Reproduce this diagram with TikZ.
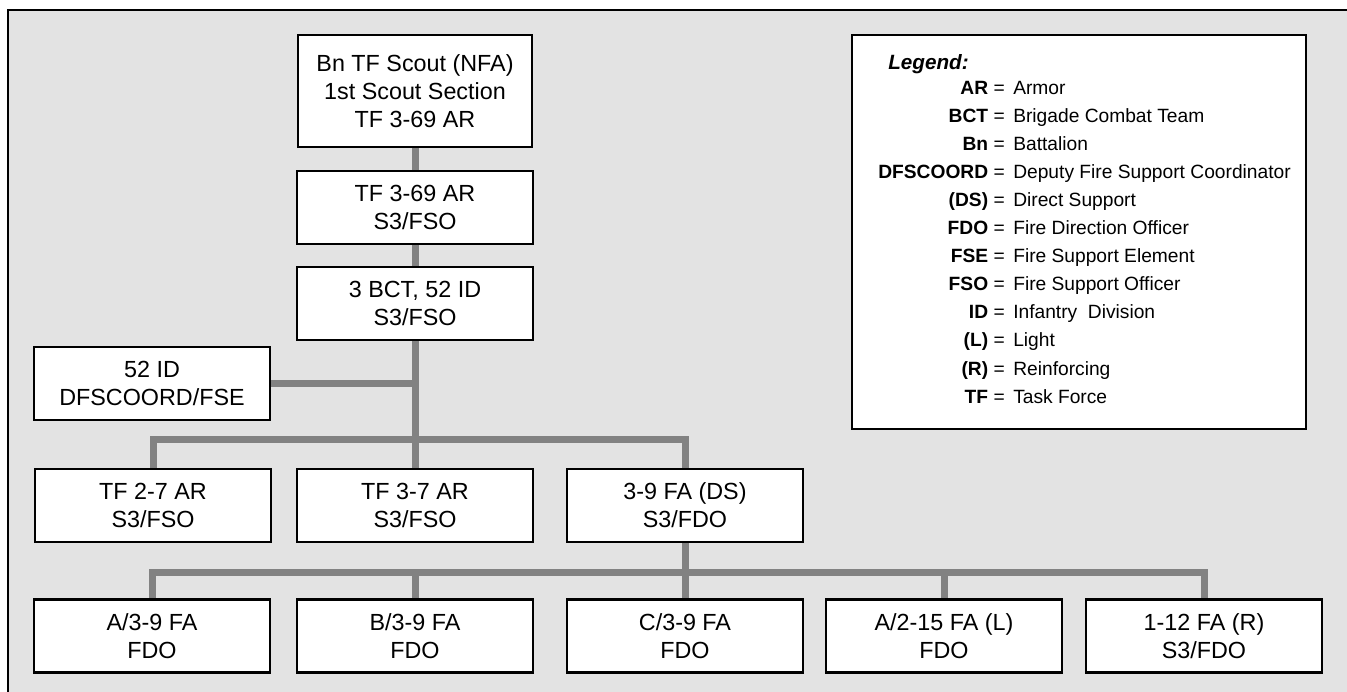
\documentclass[tikz,border=0pt]{standalone}
\usepackage{fontspec}
\setmainfont{Liberation Sans}
\usepackage{xcolor}
\usepackage{tikz}
\usetikzlibrary{positioning, calc, backgrounds}
\definecolor{panelgray}{HTML}{E3E3E3}
\definecolor{linkgray}{HTML}{828282}

\tikzset{
  unitbox/.style={draw=black, fill=white, line width=1.6pt, inner sep=0pt,
    minimum width=177pt, minimum height=54.75pt, align=center,
    font=\fontsize{17.5}{21}\selectfont},
  link/.style={draw=linkgray, line width=5.25pt},
  legtext/.style={inner sep=0pt, font=\fontsize{14.4}{16}\selectfont}
}

\begin{document}
\begin{tikzpicture}[x=0.75pt, y=-0.75pt]
  \useasboundingbox (0,0) rectangle (1347,692);

  % chain of command
  \node[unitbox, minimum width=175.5pt, minimum height=84pt] (scout) at (415,91)
    {Bn TF Scout (NFA)\\1st Scout Section\\TF 3-69 AR};
  \node[unitbox] (tfsthree) at (415,207.5) {TF 3-69 AR\\S3/FSO};
  \node[unitbox] (bct) at (415,303.5) {3 BCT, 52 ID\\S3/FSO};
  \node[unitbox] (dfs) at (152,383.5) {52 ID\\DFSCOORD/FSE};

  % maneuver and DS battalions
  \node[unitbox] (tftwo) at (153,505.5) {TF 2-7 AR\\S3/FSO};
  \node[unitbox] (tfthree) at (415,505.5) {TF 3-7 AR\\S3/FSO};
  \node[unitbox] (fads) at (685,505.5) {3-9 FA (DS)\\S3/FDO};

  % firing units
  \node[unitbox] (batA) at (152,636) {A/3-9 FA\\FDO};
  \node[unitbox] (batB) at (415,636) {B/3-9 FA\\FDO};
  \node[unitbox] (batC) at (685,636) {C/3-9 FA\\FDO};
  \node[unitbox] (batL) at (944,636) {A/2-15 FA (L)\\FDO};
  \node[unitbox] (batR) at (1204,636) {1-12 FA (R)\\S3/FDO};

  \coordinate (busone) at (415,439);
  \coordinate (bustwo) at (685,572);

  \begin{scope}[on background layer]
    \fill[panelgray] (7,9) rectangle (1347,692);
    \draw[line width=1.5pt] (7.5,692) -- (7.5,9);
    \draw[line width=2.2pt] (7,10) -- (1347,10);
    \draw[link] (scout) -- (tfsthree);
    \draw[link] (tfsthree) -- (bct);
    \draw[link] (bct) -- (tfthree);
    \draw[link] (dfs.east) -- (dfs.east -| bct.south);
    \draw[link] (tftwo.north) |- (busone) -| (fads.north);
    \draw[link] (fads) -- (batC);
    \draw[link] (batA.north) |- (bustwo) -| (batR.north);
    \draw[link] (batB.north) -- (batB.north |- bustwo);
    \draw[link] (batL.north) -- (batL.north |- bustwo);
  \end{scope}

  % legend
  \node[draw=black, fill=white, line width=0.9pt, inner sep=0pt,
        minimum width=340.5pt, minimum height=295.5pt] (legend) at (1079,232) {};
  \node[legtext, anchor=base west, font=\fontsize{15.5}{18}\selectfont\bfseries\itshape]
    (leghead) at (888,70) {Legend:};
  \foreach \abbr/\desc [count=\i from 0] in {AR/Armor, BCT/Brigade Combat Team,
      Bn/Battalion, DFSCOORD/Deputy Fire Support Coordinator, {(DS)}/Direct Support,
      FDO/Fire Direction Officer, FSE/Fire Support Element, FSO/Fire Support Officer,
      ID/Infantry~ Division, {(L)}/Light, {(R)}/Reinforcing, TF/Task Force} {
    \node[legtext, anchor=base east] (abbr\i) at (1005,94+28.1*\i) {\textbf{\abbr} =};
    \node[legtext, anchor=base west] (desc\i) at (1013,94+28.1*\i) {\desc};
  }
\end{tikzpicture}
\end{document}
